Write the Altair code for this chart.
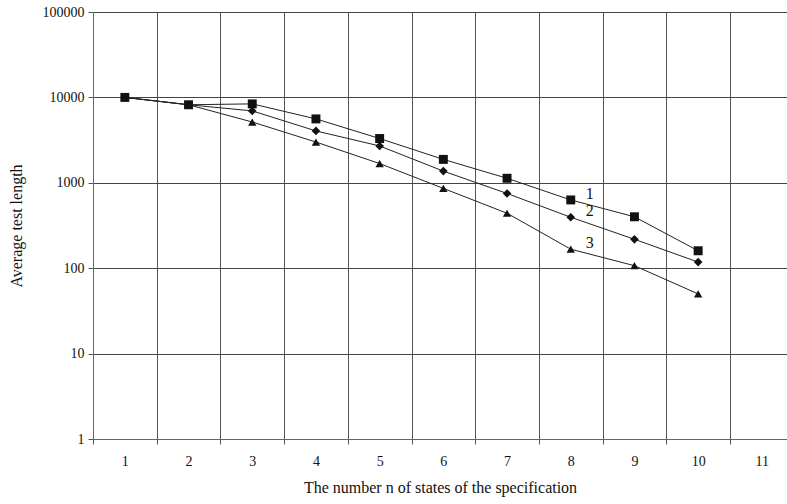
import altair as alt
import pandas as pd

n_states = [1, 2, 3, 4, 5, 6, 7, 8, 9, 10]
series_1 = [10000, 8200, 8400, 5600, 3300, 1880, 1130, 630, 400, 160]
series_2 = [10000, 8200, 6950, 4050, 2700, 1370, 750, 395, 218, 118]
series_3 = [10000, 8200, 5150, 3000, 1680, 860, 440, 167, 107, 50]
series_names = ["3", "2", "1"]
x_tick_labels = [str(i) for i in range(1, 12)]
y_ticks = [1, 10, 100, 1000, 10000, 100000]

rows = []
for name, vals in zip(series_names, [series_3, series_2, series_1]):
    for n, v in zip(n_states, vals):
        rows.append({"n": n, "value": v, "series": name})
df = pd.DataFrame(rows)

label_df = pd.DataFrame({
    "n": [8, 8, 8],
    "value": [series_1[7], series_2[7], series_3[7]],
    "label": ["1", "2", "3"],
})

FONT = "Liberation Serif"
band = 63.7
plot_w = 694
plot_h = 427
x_max = 0.5 + plot_w / band

xscale = alt.Scale(domain=[0.5, x_max], nice=False, zero=False)
yscale = alt.Scale(type="log", domain=[1, 100000], nice=False)

x_enc = alt.X(
    "n:Q",
    scale=xscale,
    axis=alt.Axis(
        values=[i - 0.5 for i in range(1, 12)],
        labelExpr="format(datum.value + 0.5, 'd')",
        labelOffset=band / 2,
        labelFlush=False,
        labelPadding=10,
        grid=True,
        gridColor="#555555",
        gridWidth=1,
        tickSize=5,
        tickColor="#555555",
        domainColor="#666666",
        labelFont=FONT,
        labelFontSize=14,
        labelColor="#111111",
        title="The number n  of states of the specification",
        titleFont=FONT,
        titleFontSize=16,
        titleFontWeight="normal",
        titleColor="#111111",
        titlePadding=11,
    ),
)
y_enc = alt.Y(
    "value:Q",
    scale=yscale,
    axis=alt.Axis(
        values=y_ticks,
        format="d",
        labelFlush=False,
        grid=True,
        gridColor="#444444",
        gridWidth=1,
        tickSize=5,
        tickColor="#555555",
        domainColor="#666666",
        labelFont=FONT,
        labelFontSize=14,
        labelColor="#111111",
        labelPadding=4,
        title="Average test length",
        titleFont=FONT,
        titleFontSize=16,
        titleFontWeight="normal",
        titleColor="#111111",
        titlePadding=18,
    ),
)

lines = alt.Chart(df).mark_line(color="#222222", strokeWidth=1).encode(
    x=x_enc, y=y_enc, detail="series:N"
)
points = alt.Chart(df).mark_point(filled=True, opacity=1, color="#111111").encode(
    x=x_enc,
    y=y_enc,
    shape=alt.Shape(
        "series:N",
        scale=alt.Scale(domain=["1", "2", "3"], range=["square", "diamond", "triangle-up"]),
        legend=None,
    ),
    size=alt.Size(
        "series:N",
        scale=alt.Scale(domain=["1", "2", "3"], range=[80, 70, 95]),
        legend=None,
    ),
)
labels = alt.Chart(label_df).mark_text(
    font=FONT, fontSize=16, color="#111111", dx=19, dy=-6, align="center"
).encode(x=x_enc, y=y_enc, text="label:N")

chart = (
    alt.layer(lines, points, labels)
    .properties(
        width=plot_w,
        height=plot_h,
        autosize=alt.AutoSizeParams(type="none"),
        padding={"left": 93, "top": 12, "right": 0, "bottom": 65},
    )
    .configure_view(stroke=None)
    .configure(background="white")
)

chart.save("out.html", embed_options={"renderer": "svg", "actions": False})
